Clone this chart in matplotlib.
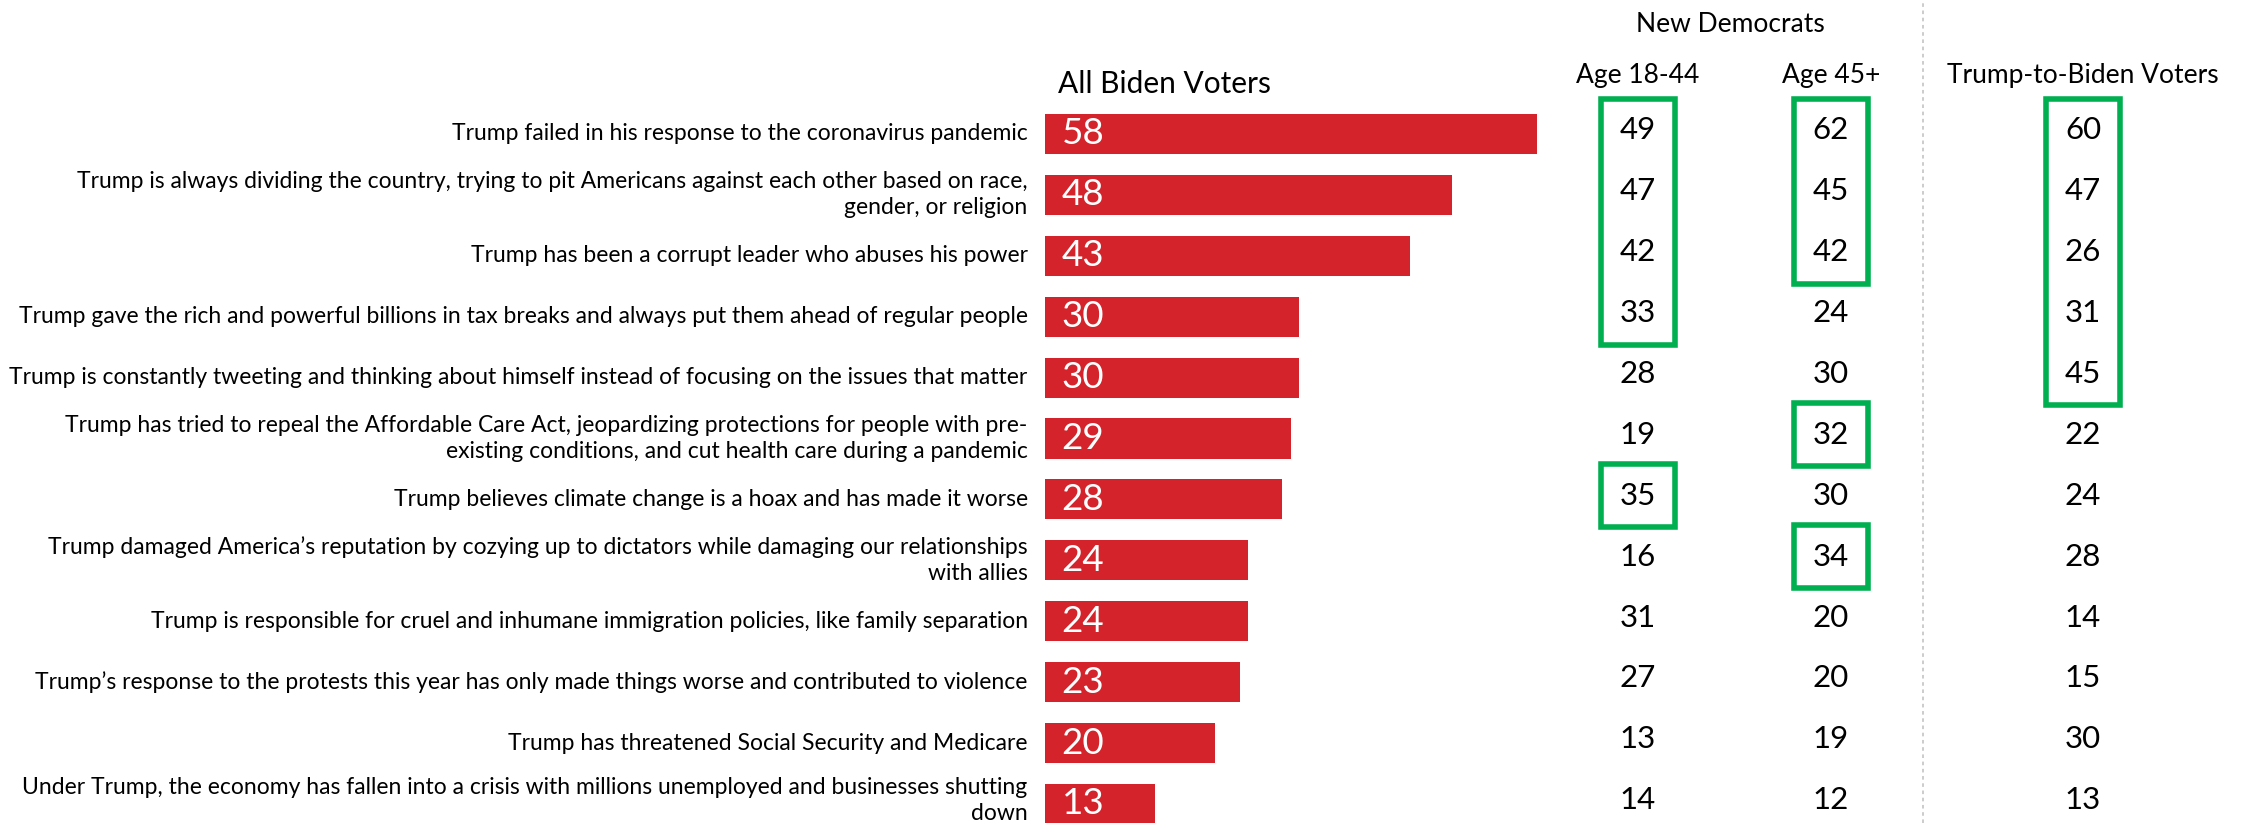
import matplotlib
matplotlib.use("Agg")
import matplotlib.pyplot as plt
from matplotlib.patches import Rectangle
from matplotlib.lines import Line2D
from matplotlib.transforms import blended_transform_factory

plt.rcParams['font.family'] = ['Lato', 'DejaVu Sans']

# data
statements = [
    "Trump failed in his response to the coronavirus pandemic",
    "Trump is always dividing the country, trying to pit Americans against each other based on race,\ngender, or religion",
    "Trump has been a corrupt leader who abuses his power",
    "Trump gave the rich and powerful billions in tax breaks and always put them ahead of regular people",
    "Trump is constantly tweeting and thinking about himself instead of focusing on the issues that matter",
    "Trump has tried to repeal the Affordable Care Act, jeopardizing protections for people with pre-\nexisting conditions, and cut health care during a pandemic",
    "Trump believes climate change is a hoax and has made it worse",
    "Trump damaged America\u2019s reputation by cozying up to dictators while damaging our relationships\nwith allies",
    "Trump is responsible for cruel and inhumane immigration policies, like family separation",
    "Trump\u2019s response to the protests this year has only made things worse and contributed to violence",
    "Trump has threatened Social Security and Medicare",
    "Under Trump, the economy has fallen into a crisis with millions unemployed and businesses shutting\ndown",
]
all_biden = [58, 48, 43, 30, 30, 29, 28, 24, 24, 23, 20, 13]
age_18_44 = [49, 47, 42, 33, 28, 19, 35, 16, 31, 27, 13, 14]
age_45_plus = [62, 45, 42, 24, 30, 32, 30, 34, 20, 20, 19, 12]
trump_to_biden = [60, 47, 26, 31, 45, 22, 24, 28, 14, 15, 30, 13]
# highlighted blocks: (column, first row, last row)
highlights = [(0, 0, 3), (0, 6, 6), (1, 0, 2), (1, 5, 5), (1, 7, 7), (2, 0, 4)]

RED = "#d4232b"
GREEN = "#00b050"
W, H = 2251, 823

fig = plt.figure(figsize=(W / 100, H / 100), dpi=100)
bar_left = 1044.7
px_per_unit = 8.49
ax_right = 1600
ax = fig.add_axes([bar_left / W, 0, (ax_right - bar_left) / W, 1])
ax.set_xlim(0, (ax_right - bar_left) / px_per_unit)
row0, step = 134, 60.9
ax.set_ylim((H - row0) / step, -row0 / step)
ax.axis("off")

rows = list(range(len(statements)))
ax.barh(rows, all_biden, height=0.66, color=RED, left=0)
for r, v in zip(rows, all_biden):
    ax.text(2.0, r, str(v), color="white", fontsize=26.5, va="center", ha="left")

fx = blended_transform_factory(fig.transFigure, ax.transData)
for r, s in zip(rows, statements):
    dy = -0.06 if r == len(rows) - 1 else 0
    ax.text(1027.7 / W, r + dy, s, transform=fx, ha="right", va="center",
            fontsize=16.5, multialignment="right", linespacing=1.3, color="black")

col_x = [1638, 1831, 2083]
cols = [age_18_44, age_45_plus, trump_to_biden]
num_off = -0.06
for cx, vals in zip(col_x, cols):
    for r, v in zip(rows, vals):
        ax.text(cx / W, r + num_off, str(v), transform=fx, ha="center", va="center",
                fontsize=22.5, color="black")

half_w = 37
half_h = 31.5 / step
for c, r0, r1 in highlights:
    x0 = (col_x[c] - half_w) / W
    y0 = r0 + num_off - half_h
    y1 = r1 + num_off + half_h
    rect = Rectangle((x0, y0), 2 * half_w / W, y1 - y0, transform=fx, fill=False,
                     edgecolor=GREEN, linewidth=4, clip_on=False)
    ax.add_patch(rect)

# headers
fig.text(1164 / W, 1 - 93 / H, "All Biden Voters", ha="center", va="baseline", fontsize=21.5)
fig.text(1730 / W, 1 - 31.5 / H, "New Democrats", ha="center", va="baseline", fontsize=19)
fig.text(1638 / W, 1 - 83 / H, "Age 18-44", ha="center", va="baseline", fontsize=19)
fig.text(1831 / W, 1 - 83 / H, "Age 45+", ha="center", va="baseline", fontsize=19)
fig.text(2083 / W, 1 - 83 / H, "Trump-to-Biden Voters", ha="center", va="baseline", fontsize=19)

fig.add_artist(Line2D([1923 / W, 1923 / W], [0, 1], transform=fig.transFigure,
                      color="#c8c8c8", linewidth=1.3, linestyle=(0, (2, 2))))

fig.savefig("out.png", dpi=100)
